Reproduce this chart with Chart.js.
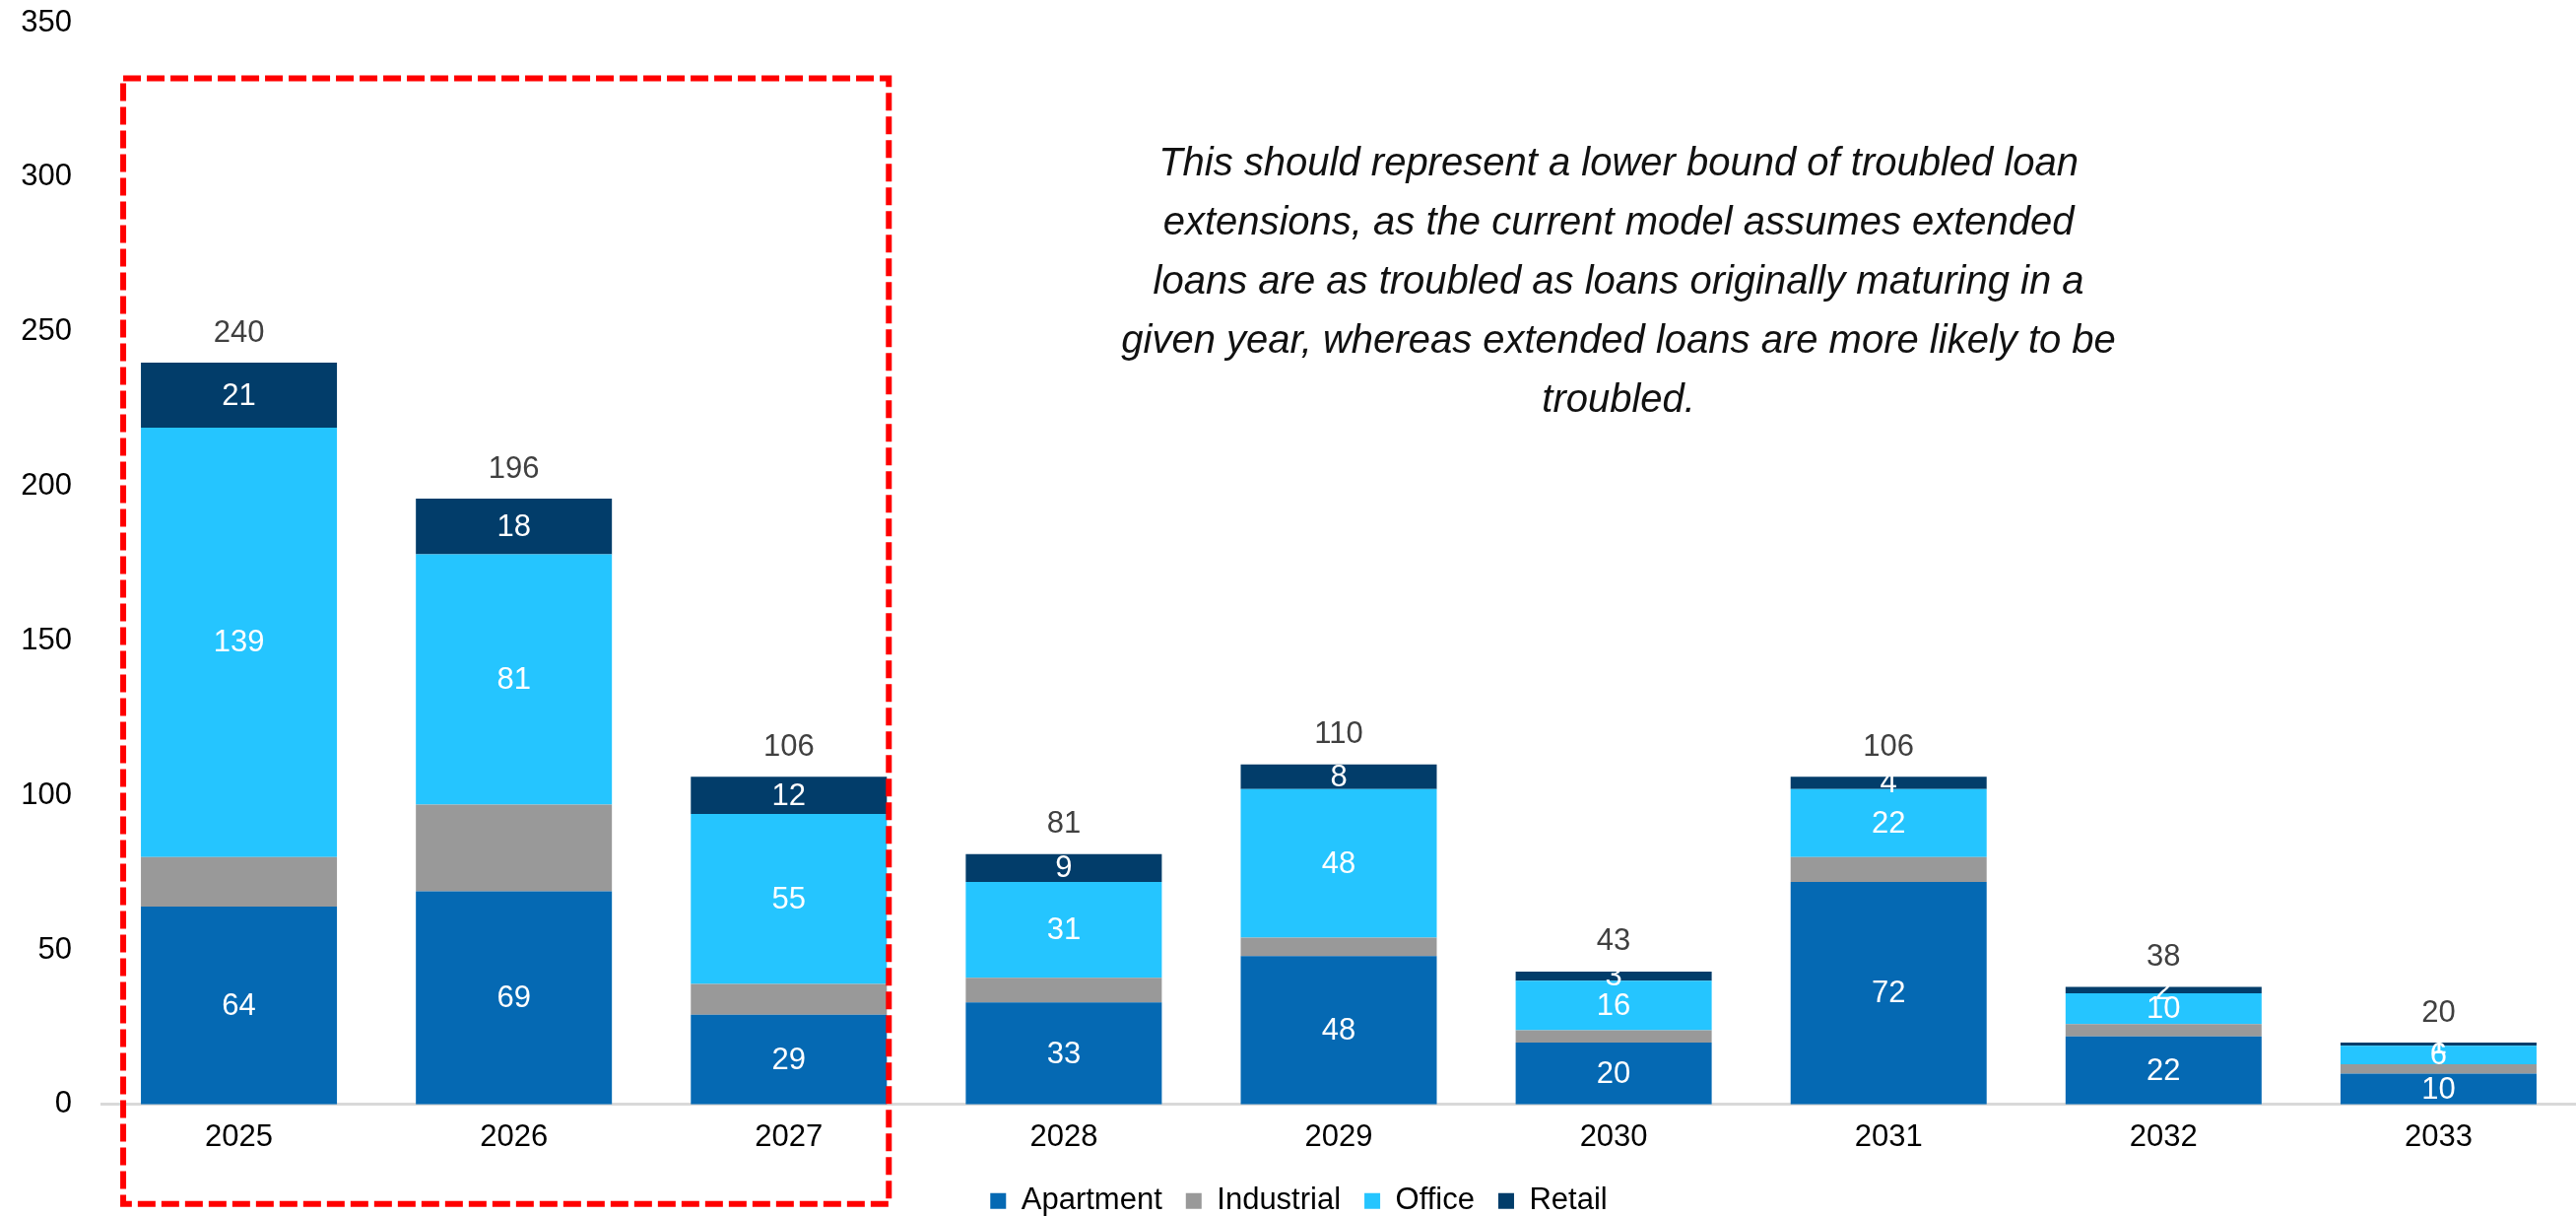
<!DOCTYPE html>
<html>
<head>
<meta charset="utf-8">
<script src="https://cdn.jsdelivr.net/npm/chart.js@4.4.1/dist/chart.umd.min.js"></script>
<style>
  html, body { margin: 0; padding: 0; background: #fff; }
  #chart { display: block; }
</style>
</head>
<body>
<canvas id="chart" width="2615" height="1234"></canvas>
<script>
// DATA
const years = ["2025", "2026", "2027", "2028", "2029", "2030", "2031", "2032", "2033"];
const apartment = [64, 69, 29, 33, 48, 20, 72, 22, 10];
const industrial = [16, 28, 10, 8, 6, 4, 8, 4, 3];
const office = [139, 81, 55, 31, 48, 16, 22, 10, 6];
const retail = [21, 18, 12, 9, 8, 3, 4, 2, 1];
const totals = [240, 196, 106, 81, 110, 43, 106, 38, 20];
const yTicks = [0, 50, 100, 150, 200, 250, 300, 350];

const note = [
  "This should represent a lower bound of troubled loan",
  "extensions, as the current model assumes extended",
  "loans are as troubled as loans originally maturing in a",
  "given year, whereas extended loans are more likely to be",
  "troubled."
];

const FONT = "'Liberation Sans', Arial, sans-serif";

// LABELS (values in segments + totals on top)
const barLabels = {
  id: "barLabels",
  afterDatasetsDraw(chart){
    const ctx = chart.ctx;
    ctx.save();
    ctx.font = "31px " + FONT;
    ctx.textAlign = "center";
    ctx.textBaseline = "middle";

    chart.data.datasets.forEach((ds, di)=>{
      if(ds.showValues === false) return;
      chart.getDatasetMeta(di).data.forEach((bar, i)=>{
        ctx.fillStyle = "#ffffff";
        ctx.fillText(ds.data[i], bar.x, (bar.y + bar.base) / 2 + 1);
      });
    });

    let top = chart.getDatasetMeta(chart.data.datasets.length - 1).data;
    ctx.fillStyle = "#404040";
    top.forEach((bar, i)=>{
      ctx.fillText(totals[i], bar.x, bar.y - 30);
    });
    ctx.restore();
  }
};

// put legend row just under the axis labels
const legendPos = {
  id: "legendPos",
  afterUpdate(chart){
    const lg = chart.legend;
    const y0 = chart.scales.y.getPixelForValue(0);
    const dy = (y0 + 98 - 24 - 15.5) - lg.top;
    lg.top += dy;
    lg.bottom += dy;
    (lg.legendHitBoxes || []).forEach(h => { h.top += dy; });
  }
};

// NOTE + RED BOX
const extras = {
  id: "extras",
  afterDraw(chart){
    const ctx = chart.ctx;
    const x = chart.scales.x, y = chart.scales.y;
    const bars = chart.getDatasetMeta(0).data;

    // italic note
    ctx.save();
    ctx.font = "italic 40px " + FONT;
    ctx.fillStyle = "#111";
    ctx.textAlign = "center";
    ctx.textBaseline = "middle";
    let cx = x.getPixelForValue(5) + 5;
    let cy = y.getPixelForValue(304);
    note.forEach((line, k)=>{
      ctx.fillText(line, cx, cy + k * 60);
    });
    ctx.restore();

    // dashed box around 2025-2027
    ctx.save();
    ctx.strokeStyle = "#ff0000";
    ctx.lineWidth = 6;
    ctx.setLineDash([18, 6]);
    let left = bars[0].x - bars[0].width / 2 - 18;
    let right = bars[2].x + bars[2].width / 2 + 2;
    let topY = y.getPixelForValue(332);
    let bottomY = y.getPixelForValue(0) + 101;
    ctx.strokeRect(left, topY, right - left, bottomY - topY);
    ctx.restore();
  }
};

new Chart(document.getElementById("chart"), {
  type: "bar",
  data: {
    labels: years,
    datasets: [
      { label: "Apartment", data: apartment, backgroundColor: "#0569B3" },
      { label: "Industrial", data: industrial, backgroundColor: "#999999", showValues: false },
      { label: "Office", data: office, backgroundColor: "#25C5FF" },
      { label: "Retail", data: retail, backgroundColor: "#023D6A" }
    ]
  },
  options: {
    responsive: false,
    animation: false,
    devicePixelRatio: 1,
    layout: { padding: { left: 22, top: 23, right: 0, bottom: -12 } },
    datasets: {
      bar: { categoryPercentage: 1, barPercentage: 0.713, borderWidth: 0 }
    },
    scales: {
      x: {
        stacked: true,
        afterFit(scale){ scale.height -= 7; },
        grid: { display: false, drawTicks: false },
        border: { display: true, color: "#d9d9d9", width: 3 },
        ticks: { color: "#000", font: { family: FONT, size: 31 }, padding: 15 }
      },
      y: {
        stacked: true,
        min: 0,
        max: 350,
        afterFit(scale){ scale.width = 81; scale.paddingTop = 0; },
        afterBuildTicks(scale){ scale.ticks = yTicks.map(v => ({ value: v })); },
        grid: { display: false, drawTicks: false },
        border: { display: false },
        ticks: { color: "#000", font: { family: FONT, size: 31 }, padding: 30 }
      }
    },
    plugins: {
      tooltip: { enabled: false },
      legend: {
        position: "bottom",
        labels: {
          color: "#000",
          font: { family: FONT, size: 31 },
          boxWidth: 16,
          boxHeight: 16,
          padding: 24
        }
      }
    }
  },
  plugins: [barLabels, legendPos, extras]
});
</script>
</body>
</html>
